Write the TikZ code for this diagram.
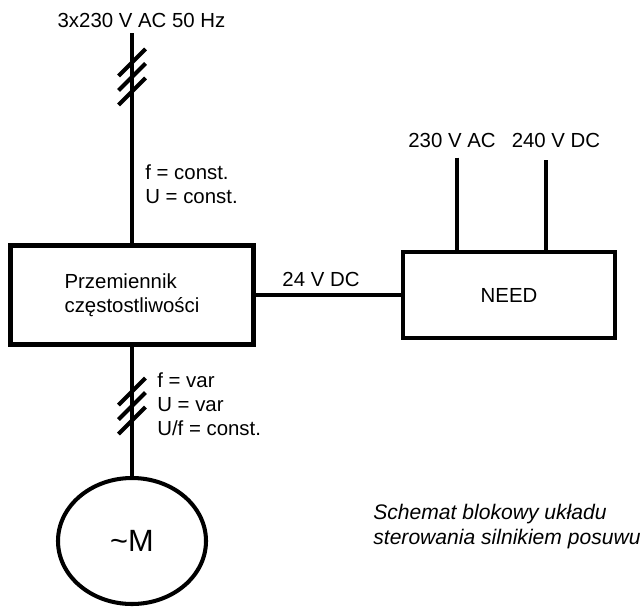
\documentclass[tikz,border=0pt]{standalone}
\usepackage{fontspec}
\setmainfont{Liberation Sans}
\usetikzlibrary{shapes.geometric,calc}

\begin{document}
\begin{tikzpicture}[
  font=\fontsize{11.6}{13.8}\selectfont,
  box/.style={draw,line width=2.6pt,align=left,inner sep=0pt},
  wire/.style={line width=2.3pt},
  tag/.style={align=left,inner sep=0pt}
]
  \useasboundingbox (0,0) rectangle (12.88,12.14);
  \node[box,minimum width=4.86cm,minimum height=1.98cm] (conv) at (2.64,6.24) {Przemiennik\\częstostliwości};
  \node[box,minimum width=4.24cm,minimum height=1.72cm] (need) at (10.18,6.24) {NEED};
  \node[draw,ellipse,line width=2.3pt,minimum width=2.96cm,minimum height=2.52cm,inner sep=0pt,
    font=\fontsize{17.5}{20}\selectfont] (motor) at (2.64,1.32) {\textasciitilde M};

  \node[anchor=base] (supply) at (2.83,11.6) {3x230 V AC 50 Hz};
  \coordinate (supplyend) at (2.64,11.48);
  \draw[wire] (conv.north) -- (supplyend);
  \node[tag,anchor=north west] (inlabel) at (2.9,8.86) {f = const.\\U = const.};

  % three phases
  \coordinate (hatchin) at (2.64,10.6);
  \draw[wire] ($(hatchin)+(-0.27,0.02)$) -- ++(0.54,0.54);
  \draw[wire] ($(hatchin)+(-0.27,-0.27)$) -- ++(0.54,0.54);
  \draw[wire] ($(hatchin)+(-0.27,-0.56)$) -- ++(0.54,0.54);

  \draw[wire] (conv.south) -- (motor.north);
  \node[tag,anchor=north west] (outlabel) at (3.14,4.7) {f = var\\U = var\\U/f = const.};
  \coordinate (hatchout) at (2.64,4.02);
  \draw[wire] ($(hatchout)+(-0.27,0.02)$) -- ++(0.54,0.54);
  \draw[wire] ($(hatchout)+(-0.27,-0.27)$) -- ++(0.54,0.54);
  \draw[wire] ($(hatchout)+(-0.27,-0.56)$) -- ++(0.54,0.54);

  \draw[wire] (conv.east) -- node[above,pos=0.45]{24 V DC} (need.west);

  \node[anchor=base] (ac) at (9.04,9.2) {230 V AC};
  \node[anchor=base] (dc) at (11.12,9.2) {240 V DC};
  \coordinate (acend) at (9.14,8.99);
  \coordinate (dcend) at (10.92,8.94);
  \draw[wire] (acend) -- (acend |- need.north);
  \draw[wire] (dcend) -- (dcend |- need.north);

  \node[tag,anchor=north west,font=\fontsize{12}{14}\selectfont\itshape] (caption) at (7.46,2.06)
    {Schemat blokowy układu\\sterowania silnikiem posuwu};
\end{tikzpicture}
\end{document}
